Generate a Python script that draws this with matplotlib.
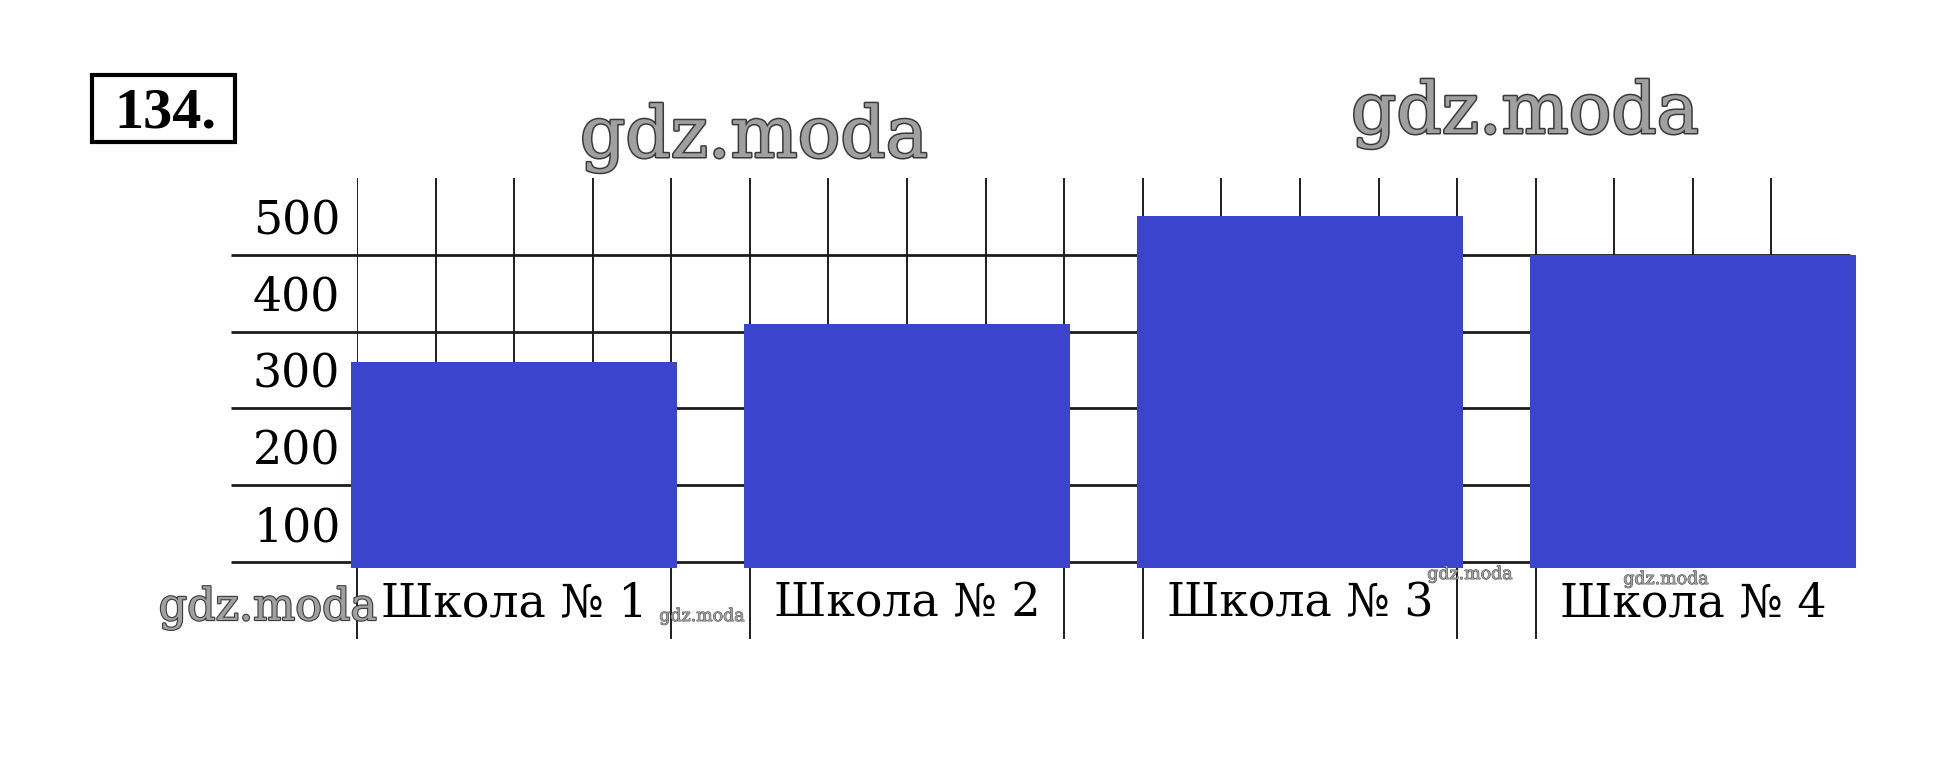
import matplotlib
matplotlib.use('Agg')
import matplotlib.pyplot as plt
import matplotlib.patheffects as pe
from matplotlib.patches import Rectangle
import numpy as np

plt.rcParams['font.family'] = ['DejaVu Serif']

# данные
schools = ['Школа № 1', 'Школа № 2', 'Школа № 3', 'Школа № 4']
students = [260, 310, 450, 400]
y_labels = [100, 200, 300, 400, 500]

W, H = 1942, 763
fig = plt.figure(figsize=(W / 100, H / 100), dpi=100)


def fx(px):
    return px / W


def fy(py):
    return 1 - py / H


# оси: одна клетка по x = одна единица, 500 сверху
ax = fig.add_axes([fx(357), fy(562), fx(1850) - fx(357), fy(178) - fy(562)])
ax.set_xlim(0, 19)
ax.set_ylim(0, 500)
for s in ax.spines.values():
    s.set_visible(False)
ax.patch.set_alpha(0)

pos = np.arange(len(schools)) * 5 + 2
line_c = '#1c1c1c'

# вертикальная сетка
for xv in range(19):
    ax.plot([xv, xv], [0, 500], color=line_c, lw=1.4, zorder=1)

# горизонтальные линии
for yv in range(0, 500, 100):
    ax.plot([-1.6, 19], [yv, yv], color=line_c, lw=2, zorder=1,
            clip_on=False, solid_capstyle='butt')

# разделители под подписями
edges = sorted(set(list(pos - 2) + list(pos + 2)))[:-1]
for xv in edges:
    ax.plot([xv, xv], [0, -99], color=line_c, lw=1.4, zorder=1, clip_on=False)

# столбцы
ax.bar(pos, np.array(students) + 8, bottom=-8, width=4.15,
       color='#3b44cc', zorder=3, clip_on=False)

ax.set_yticks(np.array(y_labels) - 50, labels=[str(v) for v in y_labels])
ax.tick_params(axis='y', length=0, pad=12, labelsize=33)
ax.set_xticks(pos, labels=schools)
ax.tick_params(axis='x', length=0, pad=14, labelsize=33)

# номер задачи в рамке
rect = Rectangle((fx(92), fy(142)), fx(235) - fx(92), fy(75) - fy(142),
                 transform=fig.transFigure, fill=False, lw=3, ec='black')
fig.add_artist(rect)
fig.text(fx(165), fy(127), '134.', ha='center', va='baseline', fontsize=42,
         fontweight='bold', family='Liberation Serif')


# водяные знаки
def watermark(x, y, size, lw):
    fig.text(fx(x), fy(y), 'gdz.moda', ha='center', va='baseline',
             fontsize=size, color='#a0a0a0',
             path_effects=[pe.withStroke(linewidth=lw, foreground='#3a3a3a')],
             zorder=5)


watermark(754, 157, 51, 2.2)
watermark(1525, 133, 51, 2.2)
watermark(268, 620, 32, 1.6)
watermark(702, 621, 12.5, 0.6)
watermark(1470, 579, 12.5, 0.6)
watermark(1666, 584, 12.5, 0.6)

fig.savefig('out.png', dpi=100)
